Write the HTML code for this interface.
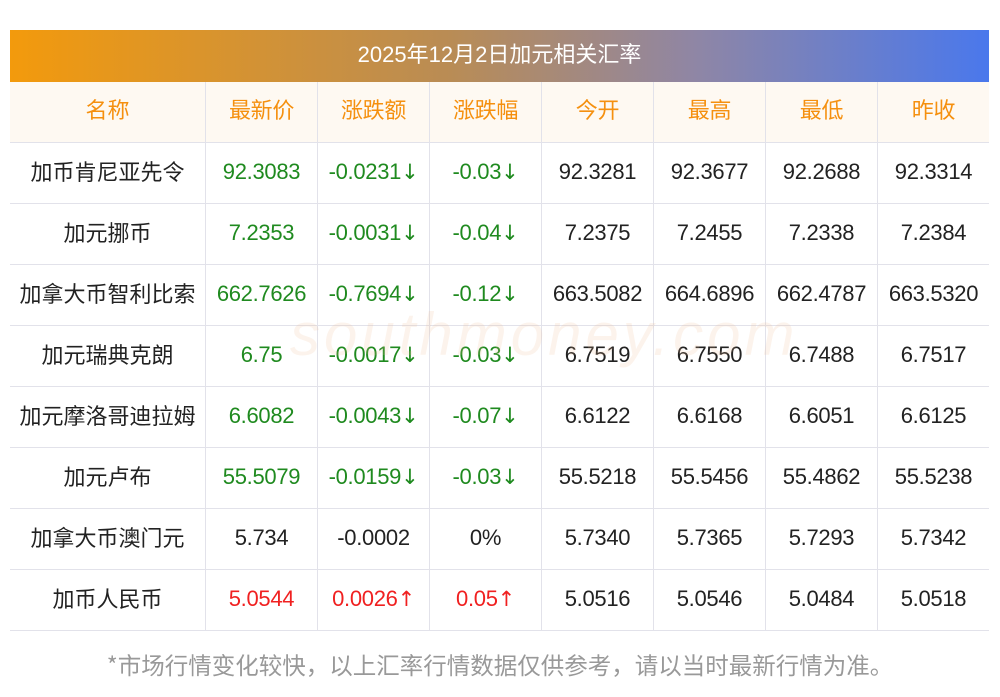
<!DOCTYPE html>
<html><head><meta charset="utf-8"><style>
body{margin:0;background:#fff;width:1000px;height:697px;overflow:hidden;font-family:"Liberation Sans","Noto Sans CJK SC",sans-serif;}
.title{position:absolute;left:10px;top:30px;width:979px;height:52px;background:linear-gradient(90deg,#f39a0c,#b98c55 45%,#8f86a5 70%,#4a78ec);color:#fff;font-size:22px;line-height:50px;text-align:center;}
.tb{position:absolute;left:10px;top:82px;width:979px}
.row{display:flex;height:60px;border-bottom:1px solid #e2e2ea}
.row div{box-sizing:border-box;width:112px;height:60px;line-height:58px;border-right:1px solid #e2e2ea;text-align:center;font-size:22px;color:#222;white-space:nowrap;overflow:hidden;letter-spacing:-0.3px}
.row div:first-child{width:196px;font-family:"Noto Sans CJK SC",sans-serif;line-height:56px;letter-spacing:0;font-size:22px}
.row div:last-child{border-right:none;width:111px}
.h{background:#fef9f2}
.h div{color:#f5900f !important;font-family:"Noto Sans CJK SC",sans-serif;font-size:22px !important;line-height:55px !important}
.g{color:#1f8a1f !important}.r{color:#f02020 !important}
.a{font-family:"DejaVu Sans",sans-serif;font-size:21px;line-height:1}
.foot{position:absolute;left:0;top:647px;width:1000px;text-align:center;color:#999;font-size:23.5px;font-family:"Noto Sans CJK SC",sans-serif;white-space:nowrap}
.wm{position:absolute;left:290px;top:300px;font-size:60px;color:rgba(240,190,150,0.18);font-style:italic;letter-spacing:4px}
</style></head><body>
<div class="title">2025年12月2日加元相关汇率</div>
<div class="tb">
<div class="row h"><div>名称</div><div>最新价</div><div>涨跌额</div><div>涨跌幅</div><div>今开</div><div>最高</div><div>最低</div><div>昨收</div></div>
<div class="row"><div>加币肯尼亚先令</div><div class="g">92.3083</div><div class="g">-0.0231<span class="a">↓</span></div><div class="g">-0.03<span class="a">↓</span></div><div>92.3281</div><div>92.3677</div><div>92.2688</div><div>92.3314</div></div>
<div class="row"><div>加元挪币</div><div class="g">7.2353</div><div class="g">-0.0031<span class="a">↓</span></div><div class="g">-0.04<span class="a">↓</span></div><div>7.2375</div><div>7.2455</div><div>7.2338</div><div>7.2384</div></div>
<div class="row"><div>加拿大币智利比索</div><div class="g">662.7626</div><div class="g">-0.7694<span class="a">↓</span></div><div class="g">-0.12<span class="a">↓</span></div><div>663.5082</div><div>664.6896</div><div>662.4787</div><div>663.5320</div></div>
<div class="row"><div>加元瑞典克朗</div><div class="g">6.75</div><div class="g">-0.0017<span class="a">↓</span></div><div class="g">-0.03<span class="a">↓</span></div><div>6.7519</div><div>6.7550</div><div>6.7488</div><div>6.7517</div></div>
<div class="row"><div>加元摩洛哥迪拉姆</div><div class="g">6.6082</div><div class="g">-0.0043<span class="a">↓</span></div><div class="g">-0.07<span class="a">↓</span></div><div>6.6122</div><div>6.6168</div><div>6.6051</div><div>6.6125</div></div>
<div class="row"><div>加元卢布</div><div class="g">55.5079</div><div class="g">-0.0159<span class="a">↓</span></div><div class="g">-0.03<span class="a">↓</span></div><div>55.5218</div><div>55.5456</div><div>55.4862</div><div>55.5238</div></div>
<div class="row"><div>加拿大币澳门元</div><div>5.734</div><div>-0.0002</div><div>0%</div><div>5.7340</div><div>5.7365</div><div>5.7293</div><div>5.7342</div></div>
<div class="row"><div>加币人民币</div><div class="r">5.0544</div><div class="r">0.0026<span class="a">↑</span></div><div class="r">0.05<span class="a">↑</span></div><div>5.0516</div><div>5.0546</div><div>5.0484</div><div>5.0518</div></div>
</div>
<div class="wm">southmoney.com</div>
<div class="foot">*市场行情变化较快，以上汇率行情数据仅供参考，请以当时最新行情为准。</div>
</body></html>
